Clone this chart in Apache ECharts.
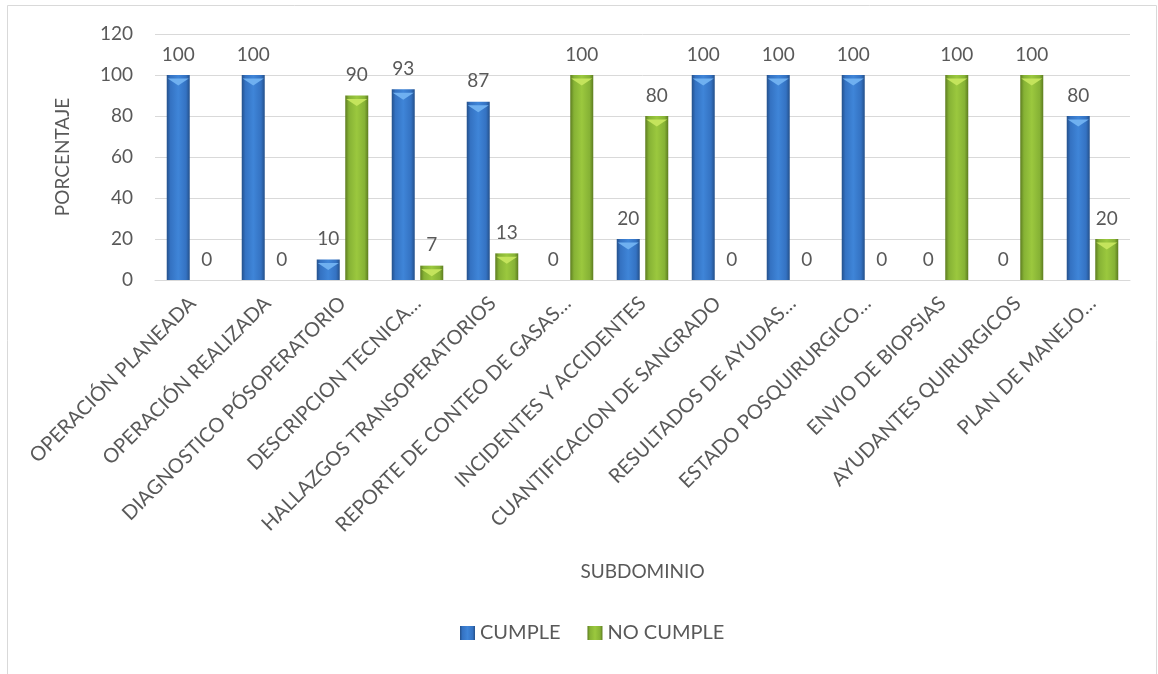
<!DOCTYPE html>
<html>
<head>
<meta charset="utf-8">
<script src="https://cdn.jsdelivr.net/npm/echarts@6/dist/echarts.min.js"></script>
<style>
  html, body { margin: 0; padding: 0; background: #fff; }
  #chart { width: 1158px; height: 674px; }
</style>
</head>
<body>
<div id="chart"></div>
<script>
// Subdominios evaluados y porcentaje de cumplimiento
const categories = [
  'OPERACIÓN PLANEADA',
  'OPERACIÓN REALIZADA',
  'DIAGNOSTICO PÓSOPERATORIO',
  'DESCRIPCION TECNICA…',
  'HALLAZGOS TRANSOPERATORIOS',
  'REPORTE DE CONTEO DE GASAS…',
  'INCIDENTES Y ACCIDENTES',
  'CUANTIFICACION DE SANGRADO',
  'RESULTADOS DE AYUDAS…',
  'ESTADO POSQUIRURGICO…',
  'ENVIO DE BIOPSIAS',
  'AYUDANTES QUIRURGICOS',
  'PLAN DE MANEJO…'
];
const cumple    = [100, 100, 10, 93, 87, 0, 20, 100, 100, 100, 0, 0, 80];
const noCumple  = [0, 0, 90, 7, 13, 100, 80, 0, 0, 0, 100, 100, 20];
const yTicks = { min: 0, max: 120, interval: 20 };

const FONT = 'Lato';
const TXT = '#595959';
const BAR_W = 23;
const BAR_GAP = '24%';

function bevelFill(dark, mid, light) {
  return new echarts.graphic.LinearGradient(0, 0, 1, 0, [
    { offset: 0, color: dark },
    { offset: 0.16, color: mid },
    { offset: 0.5, color: light },
    { offset: 0.84, color: mid },
    { offset: 1, color: dark }
  ]);
}
const blueFill  = bevelFill('#24508a', '#3472c2', '#3f85d8');
const greenFill = bevelFill('#5d7c20', '#86b235', '#9bc83e');

function barSeries(name, data, fill) {
  return {
    name: name,
    type: 'bar',
    data: data,
    barWidth: BAR_W,
    barGap: BAR_GAP,
    itemStyle: { color: fill },
    label: {
      show: true,
      position: 'top',
      distance: 11,
      color: TXT,
      fontFamily: FONT,
      fontSize: 19
    },
    z: 2
  };
}

// Light triangular bevel on the top face of each bar
function capSeries(data, color) {
  return {
    type: 'pictorialBar',
    data: data.map(v => (v > 0 ? v : null)),
    symbol: 'triangle',
    symbolRotate: 180,
    symbolSize: [BAR_W - 2, 7],
    symbolPosition: 'end',
    symbolOffset: [0, '50%'],
    barWidth: BAR_W,
    barGap: BAR_GAP,
    itemStyle: { color: color },
    silent: true,
    tooltip: { show: false },
    z: 3
  };
}

const chart = echarts.init(document.getElementById('chart'));
chart.setOption({
  animation: false,
  backgroundColor: '#fff',
  textStyle: { fontFamily: FONT, color: TXT },
  graphic: [{
    type: 'rect',
    shape: { x: 7.5, y: 5.5, width: 1149, height: 700 },
    style: { fill: 'none', stroke: '#d9d9d9', lineWidth: 1 },
    silent: true
  }],
  grid: { left: 155, right: 28, top: 34, bottom: 394 },
  legend: {
    data: ['CUMPLE', 'NO CUMPLE'],
    bottom: 26,
    left: 455,
    itemWidth: 15,
    itemHeight: 14,
    itemGap: 27,
    icon: 'rect',
    textStyle: { fontFamily: FONT, fontSize: 20, color: TXT }
  },
  xAxis: {
    type: 'category',
    data: categories,
    name: 'SUBDOMINIO',
    nameLocation: 'middle',
    nameGap: 282,
    nameTextStyle: { fontFamily: FONT, fontSize: 19, color: TXT },
    axisLine: { lineStyle: { color: '#d9d9d9', width: 1 } },
    axisTick: { show: false },
    axisLabel: {
      rotate: 45,
      interval: 0,
      margin: 20,
      fontFamily: FONT,
      fontSize: 20,
      color: TXT
    }
  },
  yAxis: {
    type: 'value',
    min: yTicks.min,
    max: yTicks.max,
    interval: yTicks.interval,
    name: 'PORCENTAJE',
    nameLocation: 'middle',
    nameGap: 83,
    nameRotate: 90,
    nameTextStyle: { fontFamily: FONT, fontSize: 19, color: TXT },
    axisLine: { show: false },
    axisTick: { show: false },
    axisLabel: { fontFamily: FONT, fontSize: 19, color: TXT, margin: 22 },
    splitLine: { lineStyle: { color: '#d9d9d9', width: 1 } }
  },
  series: [
    barSeries('CUMPLE', cumple, blueFill),
    barSeries('NO CUMPLE', noCumple, greenFill),
    capSeries(cumple, '#6fb0f0'),
    capSeries(noCumple, '#c4e45c')
  ]
});
</script>
</body>
</html>
